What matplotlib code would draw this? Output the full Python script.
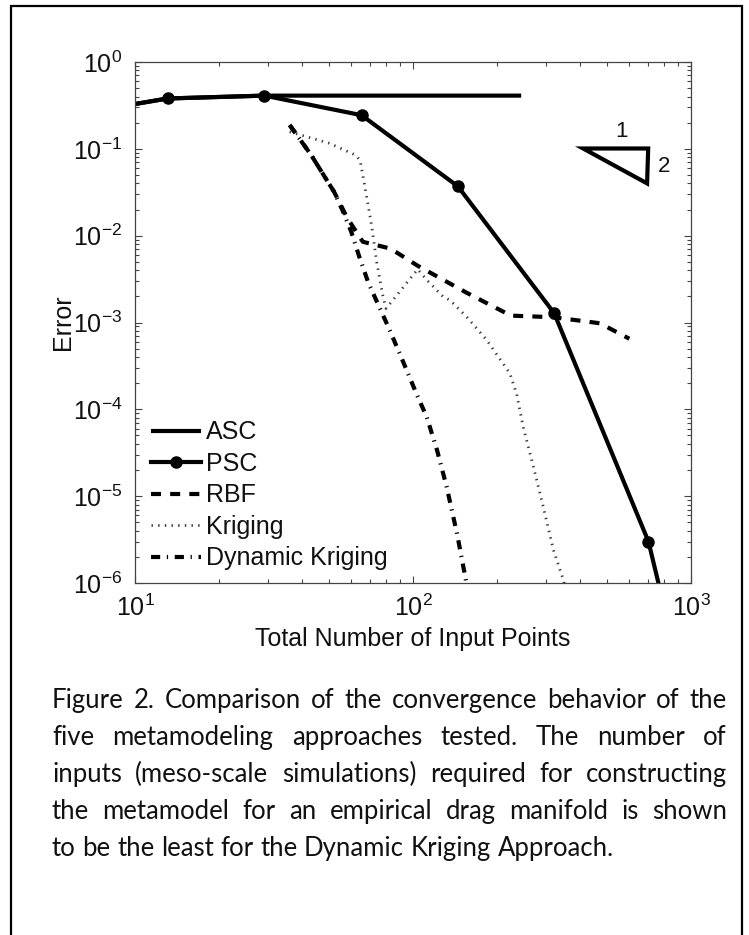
import numpy as np
import matplotlib
matplotlib.use('Agg')
import matplotlib.pyplot as plt
from matplotlib.ticker import LogLocator, NullFormatter
from matplotlib.patches import Polygon, Rectangle

plt.rcParams['font.family'] = ['Liberation Sans', 'DejaVu Sans']
plt.rcParams['mathtext.fontset'] = 'custom'
plt.rcParams['mathtext.rm'] = 'Liberation Sans'
plt.rcParams['mathtext.it'] = 'Liberation Sans:italic'
plt.rcParams['mathtext.bf'] = 'Liberation Sans:bold'

# ---------------- data ----------------
asc_x = [9, 13.1, 29.2, 245]
asc_y = [0.31, 0.38, 0.41, 0.41]

psc_x = [9, 13.1, 29.2, 65.3, 145, 322, 703, 830]
psc_y = [0.31, 0.38, 0.41, 0.244, 0.037, 0.00128, 3.0e-6, 3.3e-7]

rbf_x = [36, 43, 52, 58, 66, 83, 104, 156, 225, 320, 470, 600]
rbf_y = [0.188, 0.085, 0.032, 0.016, 0.0085, 0.0071, 0.0045, 0.0022,
         0.0012, 0.00115, 0.00098, 0.00065]

krig_x = [36, 50, 62, 64.5, 67, 71, 74, 78, 80, 104, 112, 128, 136, 156,
          184, 223, 236, 249, 271, 294, 320, 348, 362]
krig_y = [0.157, 0.116, 0.085, 0.074, 0.038, 0.013, 0.005, 0.002, 0.00145,
          0.0041, 0.0031, 0.002, 0.0018, 0.00116, 6.3e-4, 2.6e-4, 1.5e-4,
          6.3e-5, 2.2e-5, 7.6e-6, 2.4e-6, 1.07e-6, 6e-7]

dk_x = [36, 43, 52, 56, 60, 64, 69, 75, 81.5, 88, 95, 103, 112, 122, 132,
        144, 154, 162]
dk_y = [0.188, 0.085, 0.032, 0.019, 0.011, 0.0058, 0.0029, 0.0016, 8.9e-4,
        5.0e-4, 2.8e-4, 1.5e-4, 8.2e-5, 3.4e-5, 1.3e-5, 3.7e-6, 1.2e-6, 5e-7]

labels = ['ASC', 'PSC', 'RBF', 'Kriging', 'Dynamic Kriging']
xlabel = 'Total Number of Input Points'
ylabel = 'Error'
caption_lines = [
    'Figure 2. Comparison of the convergence behavior of the',
    'five metamodeling approaches tested. The number of',
    'inputs (meso-scale simulations) required for constructing',
    'the metamodel for an empirical drag manifold is shown',
    'to be the least for the Dynamic Kriging Approach.',
]

# ---------------- figure ----------------
W, H = 749, 935
fig = plt.figure(figsize=(W / 100, H / 100), dpi=100)
fig.patch.set_facecolor('white')

ax_l, ax_r, ax_t, ax_b = 135, 691, 62, 583
ax = fig.add_axes([ax_l / W, 1 - ax_b / H, (ax_r - ax_l) / W, (ax_b - ax_t) / H])
ax.set_xscale('log')
ax.set_yscale('log')
ax.set_xlim(10, 1000)
ax.set_ylim(1e-6, 1)

LW = 3.0
ax.plot(asc_x, asc_y, color='black', lw=LW, solid_capstyle='butt', label=labels[0])
ax.plot(psc_x, psc_y, color='black', lw=LW, marker='o', ms=8, label=labels[1])
ax.plot(rbf_x, rbf_y, color='black', lw=LW, dashes=(2.4, 2.2),
        dash_capstyle='butt', label=labels[2])
ax.plot(krig_x, krig_y, color='#3a3a3a', lw=2.0, dashes=(0.5, 1.9),
        dash_capstyle='butt', label=labels[3])
ax.plot(dk_x, dk_y, color='black', lw=LW, dashes=(2.2, 1.6, 0.3, 1.6),
        dash_capstyle='butt', label=labels[4])

# axes styling (MATLAB-like)
for sp in ax.spines.values():
    sp.set_color('#444444')
    sp.set_linewidth(0.9)
ax.xaxis.set_major_locator(LogLocator(base=10, numticks=10))
ax.yaxis.set_major_locator(LogLocator(base=10, numticks=10))
ax.xaxis.set_minor_locator(LogLocator(base=10, subs=np.arange(2, 10), numticks=20))
ax.yaxis.set_minor_locator(LogLocator(base=10, subs=np.arange(2, 10), numticks=20))
ax.xaxis.set_minor_formatter(NullFormatter())
ax.yaxis.set_minor_formatter(NullFormatter())
ax.tick_params(which='both', direction='in', top=True, right=True,
               color='#444444', width=0.8)
ax.tick_params(which='major', length=5)
ax.tick_params(which='minor', length=3)
ax.tick_params(axis='both', which='major', labelsize=18, colors='#444444',
               labelcolor='#111111')
ax.tick_params(axis='y', which='major', pad=9)
ax.tick_params(axis='x', which='major', pad=8)

ax.set_xlabel(xlabel, fontsize=18, color='#111111')
ax.set_ylabel(ylabel, fontsize=18, color='#111111')
ax.xaxis.set_label_coords(0.5, -0.085)
ax.yaxis.set_label_coords(-0.108, 0.5)

leg = ax.legend(loc='lower left', bbox_to_anchor=(0.028, 0.024), frameon=False,
                fontsize=18, handlelength=2.0, handletextpad=0.22,
                labelspacing=0.30, borderpad=0.0, borderaxespad=0.0)
for t in leg.get_texts():
    t.set_color('#111111')

# slope triangle annotation (axes fraction)
tri = Polygon([[0.806, 0.834], [0.923, 0.834], [0.921, 0.767]], closed=True,
              fill=False, edgecolor='black', lw=3, joinstyle='miter',
              transform=ax.transAxes, clip_on=False)
ax.add_patch(tri)
ax.text(0.875, 0.866, '1', transform=ax.transAxes, fontsize=16,
        ha='center', va='center', color='#111111')
ax.text(0.951, 0.800, '2', transform=ax.transAxes, fontsize=16,
        ha='center', va='center', color='#111111')

# outer border (box runs off the bottom of the image)
border = Rectangle((11 / W, -0.05), (742 - 11) / W, 1.05 - 6 / H,
                   transform=fig.transFigure, fill=False, edgecolor='black',
                   lw=1.6, clip_on=False)
fig.patches.append(border)

# ---------------- justified caption ----------------
cap_font = ['Lato', 'DejaVu Sans']
renderer = fig.canvas.get_renderer()

def text_width(s, size):
    t = fig.text(0, 0, s, fontsize=size, family=cap_font)
    w = t.get_window_extent(renderer).width
    t.remove()
    return w

left_px, right_px = 52, 727
cap_size = 18.5
while True:
    widest = max(text_width(l, cap_size) for l in caption_lines[:-1])
    if widest <= (right_px - left_px) or cap_size < 10:
        break
    cap_size -= 0.25

space_w = text_width('a a', cap_size) - text_width('aa', cap_size)
baselines = [708, 745, 782, 819, 856]
for i, line in enumerate(caption_lines):
    words = line.split(' ')
    widths = [text_width(w, cap_size) for w in words]
    if i < len(caption_lines) - 1 and len(words) > 1:
        gap = (right_px - left_px - sum(widths)) / (len(words) - 1)
    else:
        gap = space_w
    x = left_px
    for w, ww in zip(words, widths):
        fig.text(x / W, 1 - baselines[i] / H, w, fontsize=cap_size,
                 family=cap_font, ha='left', va='baseline', color='#111111')
        x += ww + gap

fig.savefig('out.png', dpi=100, facecolor='white')
